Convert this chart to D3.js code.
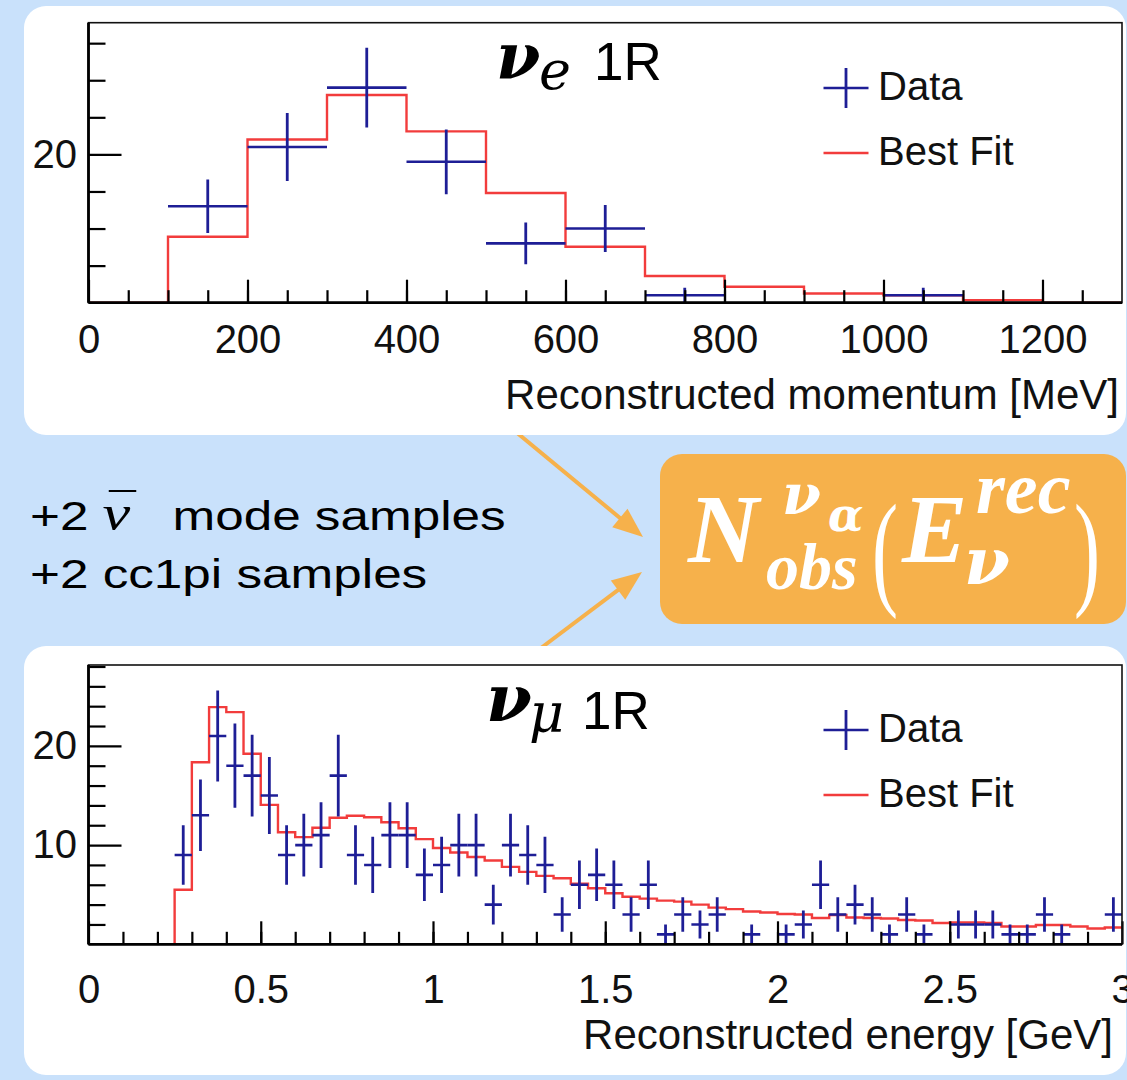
<!DOCTYPE html>
<html><head><meta charset="utf-8">
<script src="https://cdn.jsdelivr.net/npm/d3@7"></script>
<style>html,body{margin:0;padding:0;background:#c9e1fb;overflow:hidden}</style>
</head><body><svg id="c" width="1127" height="1080"></svg>
<script>
// ---------------- data ----------------
const nueEdges = [0,100,200,300,400,500,600,700,800,900,1000,1100,1200,1300];
const nueData  = [0,13,21,29,19,8,10,1,0,0,1,0,0];
const nueFit   = [0,8.9,22.0,28.0,23.1,14.8,7.55,3.6,2.15,1.25,1.0,0.35,0];
const nueXTicks = [0,200,400,600,800,1000,1200];
const nueXLabels = ["0","200","400","600","800","1000","1200"];
const nueYTicks = [20];
const nueYLabels = ["20"];

const numuEdges = [0.25,0.30,0.35,0.40,0.45,0.50,0.55,0.60,0.65,0.70,0.75,0.80,0.85,0.90,0.95,
  1.00,1.05,1.10,1.15,1.20,1.25,1.30,1.35,1.40,1.45,1.50,1.55,1.60,1.65,1.70,1.75,1.80,1.85,1.90,1.95,
  2.00,2.05,2.10,2.15,2.20,2.25,2.30,2.35,2.40,2.45,2.50,2.55,2.60,2.65,2.70,2.75,2.80,2.85,2.90,2.95,3.00];
const numuData = [9,13,21,18,17,15,9,10,11,17, 9,8,11,11,7,8,10,10,4,10,
  9,8,3,6,7,6,3,6,1,3, 2,3,0,1,0,1,2,6,3,4, 3,1,3,1,0,2,2,2,1,1, 3,1,0,0,3];
const numuFit = [5.5,18.35,23.9,23.4,19.2,14.05,11.3,10.8,11.75,12.75,
  12.95,12.8,12.3,11.7,10.6,9.7,9.25,8.8,8.45,7.8,
  7.3,6.9,6.65,6.1,5.65,5.15,4.8,4.6,4.4,4.3,
  4.0,3.7,3.55,3.3,3.2,3.05,3.0,2.65,2.95,2.7,
  2.65,2.6,2.45,2.4,2.15,2.2,2.2,2.15,1.8,1.8,
  1.95,1.95,1.8,1.6,1.7];
const numuXTicks = [0,0.5,1,1.5,2,2.5,3];
const numuXLabels = ["0","0.5","1","1.5","2","2.5","3"];
const numuYTicks = [10,20];
const numuYLabels = ["10","20"];

const legendLabels = ["Data","Best Fit"];

// ---------------- styles ----------------
const BLUE = "#1e1e96", RED = "#f23c3c", ORANGE = "#f6b14b", BG = "#c9e1fb";
const SANS = "'Liberation Sans', Arial, Helvetica, sans-serif";
const SERIF = "'Liberation Serif', 'Times New Roman', serif";
const MATH = "'DejaVu Serif', serif";

const svg = d3.select("#c");
svg.append("rect").attr("width",1127).attr("height",1080).attr("fill",BG);

// arrows (behind panels)
function arrow(x1,y1,x2,y2){
  const dx=x2-x1, dy=y2-y1, L=Math.hypot(dx,dy), ux=dx/L, uy=dy/L;
  const hl=30, hw=12;
  const bx=x2-ux*hl, by=y2-uy*hl;
  svg.append("line").attr("x1",x1).attr("y1",y1).attr("x2",bx+ux*4).attr("y2",by+uy*4)
    .attr("stroke",ORANGE).attr("stroke-width",4);
  svg.append("polygon").attr("fill",ORANGE)
    .attr("points",[[x2,y2],[bx-uy*hw,by+ux*hw],[bx+uy*hw,by-ux*hw]].map(p=>p.join(",")).join(" "));
}
arrow(516,432,643,537);
arrow(541,648,642,572);

// panels
svg.append("rect").attr("x",24).attr("y",6).attr("width",1102).attr("height",429).attr("rx",22).attr("fill","#fff");
svg.append("rect").attr("x",24).attr("y",646).attr("width",1102).attr("height",429).attr("rx",22).attr("fill","#fff");

// orange box with formula (one text element)
svg.append("rect").attr("x",660).attr("y",454).attr("width",466).attr("height",170).attr("rx",22).attr("fill",ORANGE);
const f = svg.append("text").attr("fill","#fff").attr("font-family",SERIF).attr("font-style","italic").attr("font-weight","bold");
f.append("tspan").attr("x",688).attr("y",562).attr("font-size",98).text("N");
f.append("tspan").attr("x",782).attr("y",514).attr("font-family",MATH).attr("font-size",56).text("ν");
f.append("tspan").attr("x",828).attr("y",531).attr("font-family",MATH).attr("font-size",46).text("α");
f.append("tspan").attr("x",766).attr("y",589).attr("font-size",66).text("obs");
f.append("tspan").attr("x",872).attr("y",592).attr("font-size",128).attr("font-weight","normal").attr("font-style","normal").attr("font-family",SERIF).attr("textLength",26).attr("lengthAdjust","spacingAndGlyphs").text("(");
f.append("tspan").attr("x",902).attr("y",562).attr("font-size",98).text("E");
f.append("tspan").attr("x",976).attr("y",513).attr("font-size",74).text("rec");
f.append("tspan").attr("x",964).attr("y",584).attr("font-family",MATH).attr("font-size",66).text("ν");
f.append("tspan").attr("x",1074).attr("y",592).attr("font-size",128).attr("font-weight","normal").attr("font-style","normal").attr("font-family",SERIF).attr("textLength",26).attr("lengthAdjust","spacingAndGlyphs").text(")");

// left text (wide sans, stretched horizontally)
const lt = svg.append("g").attr("transform","translate(30,0) scale(1.25,1)")
  .attr("font-family",SANS).attr("font-size",41).attr("fill","#000");
const t1 = lt.append("text").attr("y",530);
t1.append("tspan").attr("x",0).text("+2");
t1.append("tspan").attr("x",58).attr("font-family",SERIF).attr("font-style","italic").attr("font-size",50).text("ν");
t1.append("tspan").attr("x",114).text("mode samples");
lt.append("line").attr("x1",63).attr("x2",85).attr("y1",491).attr("y2",491).attr("stroke","#000").attr("stroke-width",2);
lt.append("text").attr("x",0).attr("y",588).text("+2 cc1pi samples");

// ---------------- histogram panels ----------------
function panel(cfg){
  const g = svg.append("g");
  const x = d3.scaleLinear().domain(cfg.xDomain).range([88.5,1122]);
  const y = d3.scaleLinear().domain([0,cfg.yMax]).range([cfg.bottom,cfg.top]);
  const id = "clip"+cfg.name;
  svg.append("clipPath").attr("id",id).append("rect")
    .attr("x",88.5).attr("y",cfg.top).attr("width",1122-88.5).attr("height",cfg.bottom-cfg.top);
  const plot = g.append("g").attr("clip-path",`url(#${id})`);

  // fit histogram
  const pts = [[cfg.edges[0],0]];
  cfg.fit.forEach((v,i)=>pts.push([cfg.edges[i],v]));
  pts.push([cfg.edges[cfg.edges.length-1],cfg.fit[cfg.fit.length-1]]);
  plot.append("path").attr("d",d3.line().x(d=>x(d[0])).y(d=>y(d[1])).curve(d3.curveStepAfter)(pts))
    .attr("fill","none").attr("stroke",RED).attr("stroke-width",2.4);

  // data crosses
  cfg.data.forEach((n,i)=>{
    if(n<=0) return;
    const x0=x(cfg.edges[i]), x1=x(cfg.edges[i+1]), xc=(x0+x1)/2, e=Math.sqrt(n);
    plot.append("line").attr("x1",x0).attr("x2",x1).attr("y1",y(n)).attr("y2",y(n))
      .attr("stroke",BLUE).attr("stroke-width",2.6);
    plot.append("line").attr("x1",xc).attr("x2",xc).attr("y1",y(n-e)).attr("y2",y(n+e))
      .attr("stroke",BLUE).attr("stroke-width",2.8);
  });

  // axes
  const ax = g.append("g").attr("transform",`translate(0,${cfg.bottom})`);
  ax.call(d3.axisBottom(x).tickValues(cfg.xMinor).tickSize(-12.5).tickFormat(""));
  const axM = g.append("g").attr("transform",`translate(0,${cfg.bottom})`);
  axM.call(d3.axisBottom(x).tickValues(cfg.xTicks).tickSize(-23).tickPadding(cfg.labelPad)
      .tickFormat((d,i)=>cfg.xLabels[i]));
  const ay = g.append("g").attr("transform","translate(88.5,0)");
  ay.call(d3.axisLeft(y).tickValues(cfg.yMinor).tickSize(-17).tickFormat(""));
  const ayM = g.append("g").attr("transform","translate(88.5,0)");
  ayM.call(d3.axisLeft(y).tickValues(cfg.yTicks).tickSize(-33).tickPadding(11.5)
      .tickFormat((d,i)=>cfg.yLabels[i]));
  [ax,axM,ay,ayM].forEach(a=>{
    a.select(".domain").remove();
    a.selectAll(".tick line").attr("stroke","#000").attr("stroke-width",2.2);
    a.selectAll("text").attr("font-family",SANS).attr("font-size",40).attr("fill","#111");
  });
  // frame
  g.append("rect").attr("x",88.5).attr("y",cfg.top).attr("width",1122-88.5).attr("height",cfg.bottom-cfg.top)
    .attr("fill","none").attr("stroke","#111").attr("stroke-width",1.6);
  g.append("line").attr("x1",88.5).attr("x2",1122).attr("y1",cfg.bottom).attr("y2",cfg.bottom)
    .attr("stroke","#000").attr("stroke-width",2.8);
  g.append("line").attr("x1",88.5).attr("x2",88.5).attr("y1",cfg.top).attr("y2",cfg.bottom)
    .attr("stroke","#000").attr("stroke-width",2.8);

  // axis title
  g.append("text").attr("x",cfg.titleX).attr("y",cfg.titleY).attr("text-anchor","end")
    .attr("font-family",SANS).attr("font-size",42).attr("fill","#111").text(cfg.xTitle);

  // legend
  const lx=846, ly=cfg.legY;
  g.append("line").attr("x1",lx-22.5).attr("x2",lx+22.5).attr("y1",ly).attr("y2",ly).attr("stroke",BLUE).attr("stroke-width",2.6);
  g.append("line").attr("x1",lx).attr("x2",lx).attr("y1",ly-20).attr("y2",ly+20).attr("stroke",BLUE).attr("stroke-width",2.8);
  g.append("line").attr("x1",lx-22.5).attr("x2",lx+22.5).attr("y1",ly+65).attr("y2",ly+65).attr("stroke",RED).attr("stroke-width",2.4);
  g.append("text").attr("x",878).attr("y",ly+12).attr("font-family",SANS).attr("font-size",40).attr("fill","#111").text(legendLabels[0]);
  g.append("text").attr("x",878).attr("y",ly+77).attr("font-family",SANS).attr("font-size",40).attr("fill","#111").text(legendLabels[1]);

  // title (one text element)
  const tt = g.append("text").attr("fill","#000");
  tt.append("tspan").attr("x",cfg.nuX).attr("y",cfg.nuY).attr("font-family",MATH).attr("font-style","italic")
    .attr("font-weight",600).attr("font-size",cfg.nuSize).text("ν");
  tt.append("tspan").attr("x",cfg.subX).attr("y",cfg.subY).attr("font-family",MATH).attr("font-style","italic")
    .attr("font-size",cfg.subSize).text(cfg.sub);
  tt.append("tspan").attr("x",cfg.rX).attr("y",cfg.rY).attr("font-family",SANS).attr("font-size",53).text("1R");
}

panel({name:"nue", xDomain:[0,1300], yMax:37.76, top:22.7, bottom:302.7,
  edges:nueEdges, data:nueData, fit:nueFit,
  xTicks:nueXTicks, xLabels:nueXLabels, xMinor:d3.range(50,1300,50),
  yTicks:nueYTicks, yLabels:nueYLabels, yMinor:[5,10,15,25,30,35],
  labelPad:22, xTitle:"Reconstructed momentum [MeV]", titleX:1119, titleY:409,
  legY:88, nuX:496, nuY:78, nuSize:64, subX:539, subY:89, sub:"e", subSize:54, rX:594, rY:80});

panel({name:"numu", xDomain:[0,3], yMax:28.15, top:665, bottom:944.3,
  edges:numuEdges, data:numuData, fit:numuFit,
  xTicks:numuXTicks, xLabels:numuXLabels, xMinor:d3.range(0.1,3,0.1),
  yTicks:numuYTicks, yLabels:numuYLabels, yMinor:[2,4,6,8,12,14,16,18,22,24,26,28],
  labelPad:30, xTitle:"Reconstructed energy [GeV]", titleX:1113, titleY:1049,
  legY:730, nuX:486, nuY:721, nuSize:66, subX:529, subY:732, sub:"μ", subSize:54, rX:582, rY:729});
</script></body></html>
